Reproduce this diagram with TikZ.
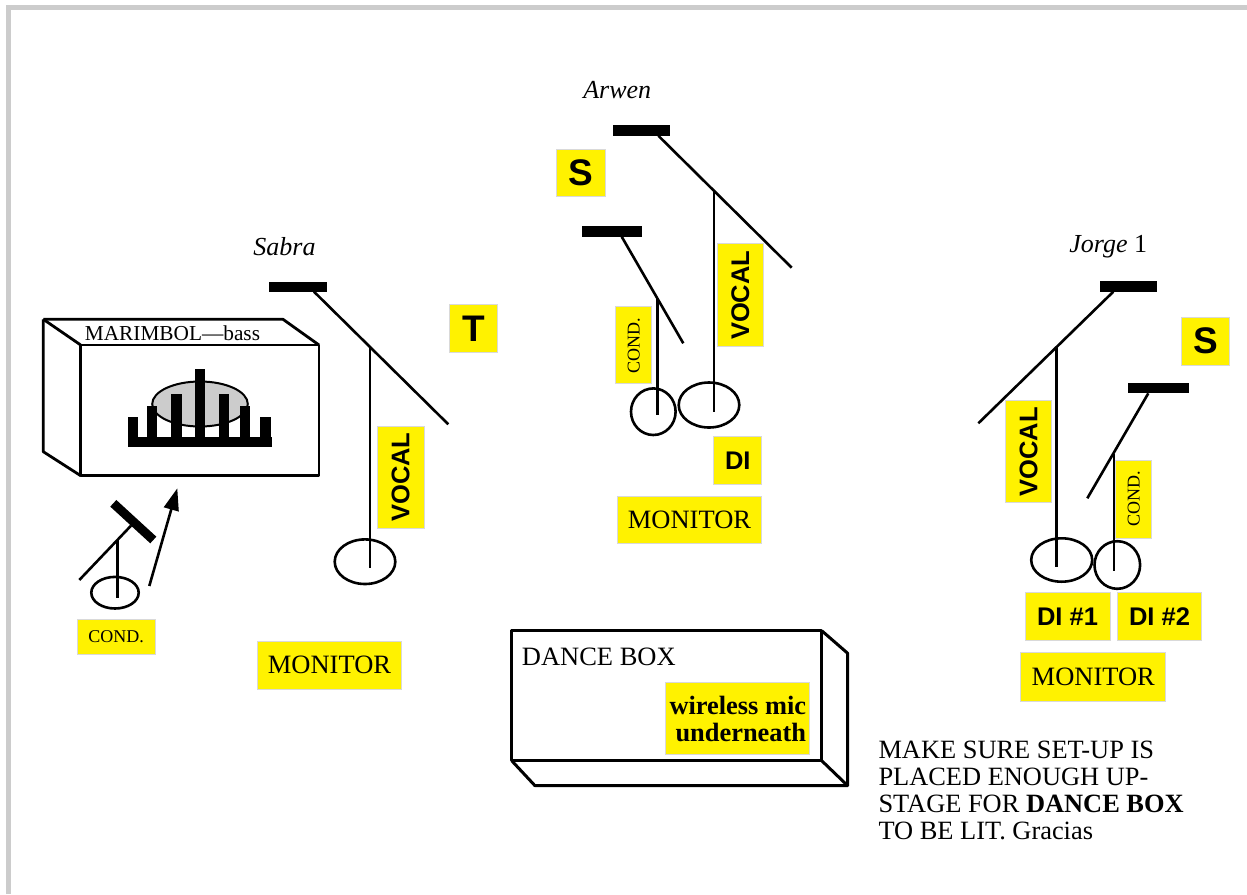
\documentclass[tikz,border=0pt]{standalone}
\usepackage{fontspec}
\setmainfont{Liberation Serif}
\newfontfamily\arialfont{Liberation Sans}
\usetikzlibrary{arrows.meta}
\begin{document}
\begin{tikzpicture}[x=1pt,y=-1pt,
  ybox/.style={fill=yellow, draw=gray!30, line width=1pt, inner sep=0pt, text=black},
  serifbig/.style={font=\fontsize{26.5}{27}\selectfont},
  sansmid/.style={font=\arialfont\bfseries\fontsize{25.5}{26}\selectfont},
  sansbig/.style={font=\arialfont\bfseries\fontsize{37}{37}\selectfont},
  serifsmall/.style={font=\fontsize{18}{18}\selectfont},
  namelabel/.style={inner sep=0pt, font=\itshape\fontsize{26}{26}\selectfont},
  stand/.style={line width=2.6pt},
  boxline/.style={line width=2.8pt, line join=round},
  micbar/.style={fill=black}]
\useasboundingbox (0,0) rectangle (1247,894);
% page frame
\fill[gray!40] (6,5) rectangle (1247,10);
\fill[gray!40] (6,5) rectangle (11,894);

% ---------------- MARIMBOL box ----------------
\draw[boxline] (43.3,319.3) -- (283,319.3) -- (319,345);
\draw[boxline] (80.7,345) rectangle (319,475.7);
\draw[boxline] (43.3,319.3) -- (80.7,345);
\draw[boxline] (43.3,319.3) -- (43.3,451.7) -- (80.7,475.7);
\node[inner sep=0pt, font=\fontsize{21.3}{22}\selectfont] (marlabel) at (172.5,333) {MARIMBOL—bass};
% marimba icon
\draw[fill=gray!40, line width=2pt] (200,404) ellipse [x radius=47.8, y radius=22.5];
\fill (128.3,436.7) rectangle (272.3,446.7);
\fill (128.3,417.3) rectangle (138.3,437);
\fill (146.7,406) rectangle (156.7,437);
\fill (171,394) rectangle (181.7,437);
\fill (195,369.3) rectangle (205,437);
\fill (219,394) rectangle (229.3,437);
\fill (240,406) rectangle (250,437);
\fill (260,417.3) rectangle (270.7,437);
% cond mic for marimbol
\draw[stand] (115,592.7) ellipse [x radius=23.7, y radius=15.8];
\draw[stand] (117.3,540) -- (117.3,597.7);
\draw[stand] (79.3,580) -- (131,525.7);
\draw[line width=9pt] (113.3,503.3) -- (153.3,540);
\draw[line width=2.6pt, -{Triangle[length=22pt,width=15pt]}] (149.3,586) -- (177.3,488.3);
\node[ybox, serifsmall, minimum width=77.7, minimum height=35] (cond1) at (116.2,636.5) {COND.};

% ---------------- Sabra ----------------
\node[namelabel] (sabra) at (284.5,246.7) {Sabra};
\fill[micbar] (269.3,281.7) rectangle (326.7,291.7);
\draw[stand] (314,291.7) -- (448.3,424.3);
\draw[stand] (365,561.7) ellipse [x radius=30.3, y radius=22.3];
\draw[stand] (370,348.3) -- (370,568.3);
\node[ybox, sansmid, rotate=90, minimum width=102.3, minimum height=46.7] (voc1) at (400.7,477.2) {VOCAL};
\node[ybox, sansbig, minimum width=47.7, minimum height=47.7] (t1) at (473.8,328.8) {T};
\node[ybox, serifbig, minimum width=144.4, minimum height=48.3] (mon1) at (329.5,665.2) {MONITOR};

% ---------------- Arwen ----------------
\node[namelabel] (arwen) at (617.2,90) {Arwen};
\fill[micbar] (613.3,125) rectangle (670,135.7);
\draw[stand] (658.3,135.7) -- (791.7,267.7);
\draw[stand] (709,405) ellipse [x radius=30.3, y radius=22.5];
\draw[stand] (714,191.7) -- (714,411.7);
\fill[micbar] (581.7,226) rectangle (642.3,236.7);
\draw[stand] (621.7,236.7) -- (683.3,343.3);
\draw[stand] (653.3,411.7) ellipse [x radius=22.3, y radius=23.3];
\draw[stand] (657.3,299.3) -- (657.3,415);
\node[ybox, sansbig, minimum width=48.7, minimum height=47.4] (s1) at (581.3,173) {S};
\node[ybox, serifsmall, rotate=90, minimum width=77.3, minimum height=36] (cond2) at (633.7,345.3) {COND.};
\node[ybox, sansmid, rotate=90, minimum width=102.7, minimum height=46] (voc2) at (740.3,295.3) {VOCAL};
\node[ybox, sansmid, minimum width=47.7, minimum height=47.6] (di1) at (737.8,460.5) {DI};
\node[ybox, serifbig, minimum width=144.4, minimum height=47.3] (mon2) at (689.5,520.3) {MONITOR};

% ---------------- Jorge ----------------
\node[inner sep=0pt, font=\fontsize{26}{26}\selectfont] (jorge) at (1108.3,246.7) {\textit{Jorge} 1};
\fill[micbar] (1100,280.7) rectangle (1157.3,291.7);
\draw[stand] (1113.3,291.7) -- (978.3,423.3);
\draw[stand] (1061.7,560) ellipse [x radius=30.5, y radius=21.7];
\draw[stand] (1056.7,347.3) -- (1056.7,567.3);
\fill[micbar] (1128.3,382.7) rectangle (1189,393.3);
\draw[stand] (1148.3,393.3) -- (1087.3,498.3);
\draw[stand] (1117.3,565) ellipse [x radius=22.8, y radius=23.8];
\draw[stand] (1114,454) -- (1114,570.7);
\node[ybox, sansbig, minimum width=48.3, minimum height=47.7] (s2) at (1205.8,341.2) {S};
\node[ybox, sansmid, rotate=90, minimum width=102, minimum height=46] (voc3) at (1028.7,451.7) {VOCAL};
\node[ybox, serifsmall, rotate=90, minimum width=78.3, minimum height=36] (cond3) at (1133.7,499.2) {COND.};
\node[ybox, sansmid, minimum width=85, minimum height=48.4] (di2) at (1067.5,616.5) {DI \#1};
\node[ybox, sansmid, minimum width=84.4, minimum height=48.4] (di3) at (1159.5,616.5) {DI \#2};
\node[ybox, serifbig, minimum width=144.7, minimum height=48.7] (mon3) at (1093.3,676.7) {MONITOR};

% ---------------- Dance box ----------------
\draw[line width=3pt, line join=round] (511.7,630.7) rectangle (821.7,760.7);
\draw[line width=3pt, line join=round] (821.7,630.7) -- (847.7,653.3) -- (847.7,785.7) -- (535,785.7) -- (511.7,760.7);
\draw[line width=3pt, line join=round] (821.7,760.7) -- (847.7,785.7);
\node[inner sep=0pt, serifbig, anchor=west] (dance) at (521.7,657.3) {DANCE BOX};
\node[ybox, align=right, font=\bfseries\fontsize{26.4}{26.7}\selectfont, minimum width=144.3, minimum height=72.3] (wireless) at (737.8,718.8) {wireless mic\\underneath};

% ---------------- Note ----------------
\node[inner sep=0pt, anchor=north west, align=left, font=\fontsize{26.4}{27}\selectfont] (note) at (878.3,741.3)
  {MAKE SURE SET-UP IS\\PLACED ENOUGH UP-\\STAGE FOR \textbf{DANCE BOX}\\TO BE LIT. Gracias};
\end{tikzpicture}
\end{document}
